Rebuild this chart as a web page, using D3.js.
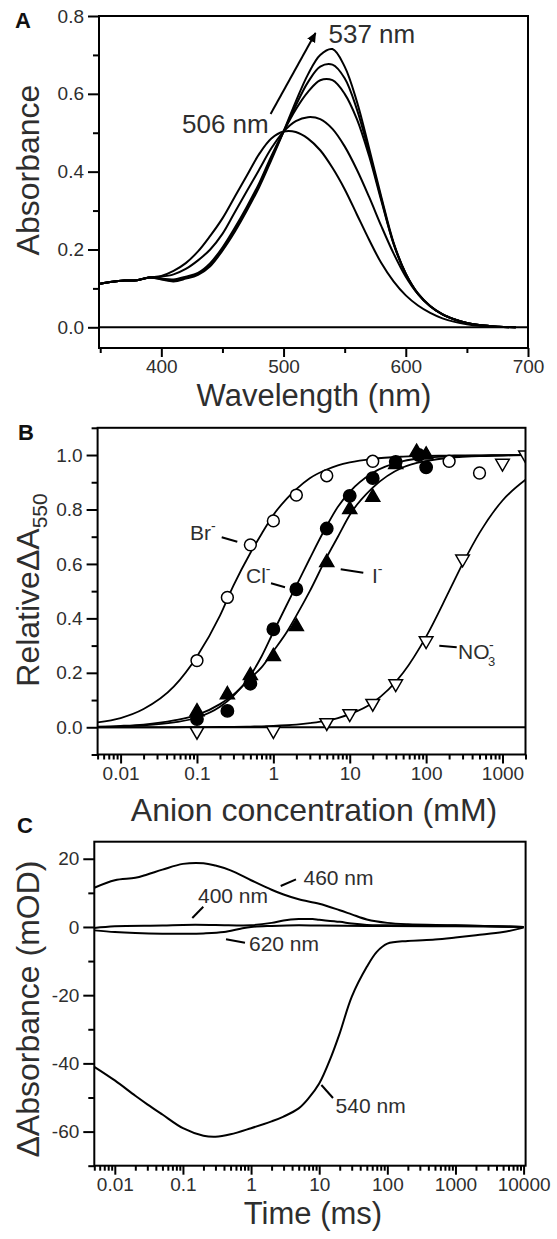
<!DOCTYPE html>
<html><head><meta charset="utf-8">
<script src="https://cdn.jsdelivr.net/npm/d3@7"></script>
<style>
body{margin:0;background:#fff;}
svg{display:block;font-family:"Liberation Sans",Arial,Helvetica,sans-serif;}
</style></head><body>
<svg id="chart" width="557" height="1239"></svg>
<script>
// ---------------- Panel A data: absorption spectra ----------------
const waveA = [350,360,370,380,390,400,410,420,430,440,450,460,470,480,490,500,510,520,530,540,550,560,570,580,590,600,610,620,630,640,650,660,670,680,690];
const abs506 = [.112,.117,.120,.121,.128,.132,.145,.165,.195,.235,.280,.335,.390,.445,.485,.503,.502,.485,.455,.410,.355,.290,.225,.165,.118,.082,.056,.037,.023,.014,.008,.004,.002,.001,0];
const abs523 = [.112,.117,.120,.121,.128,.130,.136,.150,.172,.200,.240,.295,.350,.405,.460,.503,.530,.540,.535,.510,.465,.405,.335,.260,.190,.130,.085,.054,.033,.020,.011,.006,.003,.001,0];
const abs535 = [.112,.117,.120,.121,.128,.125,.123,.130,.140,.165,.205,.255,.310,.370,.440,.503,.560,.605,.635,.635,.600,.535,.440,.325,.215,.138,.087,.055,.034,.020,.011,.006,.003,.001,0];
const abs536 = [.112,.117,.120,.121,.128,.124,.120,.127,.137,.160,.200,.250,.305,.365,.435,.503,.570,.630,.670,.675,.640,.560,.450,.330,.215,.137,.086,.054,.033,.020,.011,.006,.003,.001,0];
const abs537 = [.112,.117,.120,.121,.128,.123,.118,.125,.135,.157,.197,.245,.300,.360,.430,.503,.580,.650,.700,.715,.670,.580,.460,.335,.218,.138,.086,.054,.033,.020,.011,.006,.003,.001,0];
const spectraA = [abs506, abs523, abs535, abs536, abs537];
const xTicksA = [400,500,600,700], xTickLabelsA = ["400","500","600","700"], xMinorA = [350,450,550,650];
const yTicksA = [0,0.2,0.4,0.6,0.8], yTickLabelsA = ["0.0","0.2","0.4","0.6","0.8"], yMinorA = [0.1,0.3,0.5,0.7];

// ---------------- Panel B data: anion titration ----------------
const brConc = [0.1,0.25,0.5,1,2,5,20,200,500];
const brRel  = [.245,.477,.670,.758,.853,.924,.977,.977,.934];
const clConc = [0.1,0.25,0.5,1,2,5,10,20,40,80,100];
const clRel  = [.030,.060,.160,.360,.507,.730,.850,.915,.975,1.00,.955];
const iConc  = [0.1,0.25,0.5,1,2,5,10,20,40,75,100];
const iRel   = [.057,.120,.190,.260,.370,.605,.800,.845,.965,1.01,1.00];
const no3Conc = [0.1,1,5,10,20,40,100,300,1000,2000];
const no3Rel  = [-.015,-.012,.017,.050,.088,.160,.318,.618,.970,1.00];
const fitConc = [0.005,0.01,0.02,0.05,0.1,0.2,0.3,0.5,0.7,1,1.5,2,3,5,7,10,20,50,100,200,300,500,1000,2000];
const brFit  = [.018,.034,.067,.150,.260,.410,.520,.640,.710,.780,.840,.875,.915,.947,.962,.973,.986,.994,.997,.998,.999,.999,1,1];
const clFit  = [.001,.003,.007,.018,.035,.075,.115,.190,.260,.350,.450,.520,.620,.740,.810,.865,.935,.978,.990,.995,.997,.998,.999,1];
const iFit   = [.002,.005,.010,.025,.045,.085,.120,.180,.220,.280,.350,.410,.500,.625,.700,.780,.880,.955,.978,.990,.993,.996,.998,1];
const no3Fit = [0,0,0,0,.0005,.001,.0015,.0025,.0035,.005,.0075,.010,.015,.024,.034,.048,.090,.200,.333,.500,.600,.714,.833,.909];
const xTicksB = [0.01,0.1,1,10,100,1000], xTickLabelsB = ["0.01","0.1","1","10","100","1000"];
const yTicksB = [0,0.2,0.4,0.6,0.8,1.0], yTickLabelsB = ["0.0","0.2","0.4","0.6","0.8","1.0"], yMinorB = [-0.1,0.1,0.3,0.5,0.7,0.9,1.1];

// ---------------- Panel C data: transient absorbance ----------------
const t460 = [0.005,0.01,0.02,0.03,0.05,0.1,0.2,0.3,0.5,1,2,3,5,10,20,30,50,100,200,1000,10000];
const d460 = [11.5,13.7,14.4,15.4,16.8,18.5,18.7,18.0,16.6,13.7,10.9,9.5,8.1,6.8,4.9,3.7,2.2,1.2,0.8,0.5,0];
const t400 = [0.005,0.01,0.05,0.1,0.3,1,2,3,5,8,10,20,30,50,100,1000,10000];
const d400 = [-0.3,0.2,0.4,0.6,0.6,0.5,1.2,1.9,2.3,2.3,2.1,1.5,1.0,0.6,0.5,0.4,0];
const t620 = [0.005,0.01,0.02,0.05,0.1,0.2,0.4,0.7,1,2,5,10,50,100,1000,10000];
const d620 = [-1.0,-1.5,-1.8,-2.0,-2.0,-1.9,-1.5,-0.5,0,0.3,0.5,0.4,0.3,0.3,0.2,0];
const t540 = [0.005,0.01,0.02,0.03,0.05,0.1,0.2,0.3,0.5,1,2,3,5,7,10,15,20,30,50,70,100,200,500,1000,2000,5000,10000];
const d540 = [-41,-45,-49.5,-52,-55,-59,-61.2,-61.5,-60.8,-59,-57,-55.6,-53.2,-50.2,-45.9,-38,-31.2,-20.5,-11.7,-7.3,-4.9,-4.1,-3.7,-3.1,-2.4,-1.5,-0.2];
const xTicksC = [0.01,0.1,1,10,100,1000,10000], xTickLabelsC = ["0.01","0.1","1","10","100","1000","10000"];
const yTicksC = [-60,-40,-20,0,20], yTickLabelsC = ["-60","-40","-20","0","20"], yMinorC = [-70,-50,-30,-10,10];

// ---------------- drawing ----------------
const FONT = '"Liberation Sans", Arial, Helvetica, sans-serif';
const TXT = '#2e2e2e';
const svg = d3.select('#chart');

function styleAxis(g){
  g.select('.domain').remove();
  g.attr('font-family', FONT).attr('font-size', 19);
  g.selectAll('line').attr('stroke','#000').attr('stroke-width',2);
  g.selectAll('text').attr('fill', TXT);
}
function xAxis(scale, yPos, majors, labels, minors){
  const gmin = svg.append('g').attr('transform',`translate(0,${yPos})`)
    .call(d3.axisBottom(scale).tickValues(minors).tickSize(5).tickFormat(''));
  styleAxis(gmin);
  const g = svg.append('g').attr('transform',`translate(0,${yPos})`)
    .call(d3.axisBottom(scale).tickValues(majors).tickSize(9).tickPadding(3).tickFormat((d,i)=>labels[i]));
  styleAxis(g);
}
function yAxis(scale, xPos, majors, labels, minors){
  const gmin = svg.append('g').attr('transform',`translate(${xPos},0)`)
    .call(d3.axisLeft(scale).tickValues(minors).tickSize(6).tickFormat(''));
  styleAxis(gmin);
  const g = svg.append('g').attr('transform',`translate(${xPos},0)`)
    .call(d3.axisLeft(scale).tickValues(majors).tickSize(11).tickPadding(4).tickFormat((d,i)=>labels[i]));
  styleAxis(g);
}
function frame(b){
  svg.append('rect').attr('x',b.x0).attr('y',b.y0).attr('width',b.x1-b.x0).attr('height',b.y1-b.y0)
    .attr('fill','none').attr('stroke','#000').attr('stroke-width',2);
}
function text(x,y,str,size,opts={}){
  const t = svg.append('text').attr('x',x).attr('y',y).attr('font-size',size).attr('fill',TXT)
    .attr('font-family',FONT).attr('text-anchor',opts.anchor||'start');
  if(opts.weight) t.attr('font-weight',opts.weight);
  t.text(str);
  return t;
}
function leader(x1,y1,x2,y2){
  svg.append('line').attr('x1',x1).attr('y1',y1).attr('x2',x2).attr('y2',y2)
    .attr('stroke','#000').attr('stroke-width',2);
}

// ===== Panel A =====
const A = {x0:99, x1:528, y0:16, y1:348};
const xA = d3.scaleLinear().domain([349,700]).range([A.x0,A.x1]);
const yA = d3.scaleLinear().domain([-0.0532,0.8]).range([A.y1,A.y0]);
svg.append('line').attr('x1',A.x0).attr('x2',A.x1).attr('y1',yA(0)).attr('y2',yA(0)).attr('stroke','#000').attr('stroke-width',2);
const lineA = d3.line().x((d,i)=>xA(waveA[i])).y(d=>yA(d)).curve(d3.curveCatmullRom.alpha(0.5));
spectraA.forEach(s=>{
  svg.append('path').attr('d',lineA(s)).attr('fill','none').attr('stroke','#000').attr('stroke-width',2);
});
xAxis(xA, A.y1, xTicksA, xTickLabelsA, xMinorA);
yAxis(yA, A.x0, yTicksA, yTickLabelsA, yMinorA);
frame(A);
text(314,406,'Wavelength (nm)',31,{anchor:'middle'});
svg.append('text').attr('transform','translate(39,170) rotate(-90)').attr('text-anchor','middle')
  .attr('font-size',32).attr('fill',TXT).attr('font-family',FONT).text('Absorbance');
text(15,28,'A',22,{weight:'bold'}).attr('fill','#111');
text(328.5,43,'537 nm',26);
text(182,133,'506 nm',26);
const defs = svg.append('defs');
defs.append('marker').attr('id','arr').attr('viewBox','0 0 10 10').attr('refX',9).attr('refY',5)
  .attr('markerWidth',10).attr('markerHeight',10).attr('markerUnits','userSpaceOnUse').attr('orient','auto')
  .append('path').attr('d','M0,0.5 L10,5 L0,9.5 Z').attr('fill','#000');
svg.append('line').attr('x1',270.6).attr('y1',114).attr('x2',315.5).attr('y2',33)
  .attr('stroke','#000').attr('stroke-width',2).attr('marker-end','url(#arr)');

// ===== Panel B =====
const B = {x0:97.6, x1:525.5, y0:427.8, y1:754.5};
const xB = d3.scaleLog().domain([0.005,2000]).range([B.x0,B.x1]);
const yB = d3.scaleLinear().domain([-0.1,1.1]).range([B.y1,B.y0]);
defs.append('clipPath').attr('id','clipB').append('rect').attr('x',B.x0).attr('y',B.y0).attr('width',B.x1-B.x0).attr('height',B.y1-B.y0);
svg.append('line').attr('x1',B.x0).attr('x2',B.x1).attr('y1',yB(0)).attr('y2',yB(0)).attr('stroke','#000').attr('stroke-width',2);
const gB = svg.append('g').attr('clip-path','url(#clipB)');
const lineB = d3.line().x((d,i)=>xB(fitConc[i])).y(d=>yB(d)).curve(d3.curveMonotoneX);
[brFit, clFit, iFit, no3Fit].forEach(f=>{
  gB.append('path').attr('d',lineB(f)).attr('fill','none').attr('stroke','#000').attr('stroke-width',1.8);
});
function markers(conc, vals, type, filled, size, rot){
  gB.selectAll(null).data(vals).enter().append('path')
    .attr('d', d3.symbol().type(type).size(size))
    .attr('transform',(d,i)=>`translate(${xB(conc[i])},${yB(d)}) rotate(${rot||0})`)
    .attr('fill', filled ? '#000' : '#fff').attr('stroke','#000').attr('stroke-width',1.5);
}
markers(no3Conc, no3Rel, d3.symbolTriangle, false, 80, 180);
markers(brConc, brRel, d3.symbolCircle, false, 110);
markers(iConc, iRel, d3.symbolTriangle, true, 85);
markers(clConc, clRel, d3.symbolCircle, true, 120);
const xMinorB = xB.ticks().filter(v=>!xTicksB.some(m=>Math.abs(m-v)/m<1e-6));
xAxis(xB, B.y1, xTicksB, xTickLabelsB, xMinorB);
yAxis(yB, B.x0, yTicksB, yTickLabelsB, yMinorB);
frame(B);
text(314,821,'Anion concentration (mM)',32,{anchor:'middle'});
const tB = svg.append('text').attr('transform','translate(39,590) rotate(-90)').attr('text-anchor','middle')
  .attr('font-size',32).attr('fill',TXT).attr('font-family',FONT);
tB.append('tspan').text('Relative\u0394A');
tB.append('tspan').attr('font-size',21).attr('dy',8).text('550');
text(18,440,'B',22,{weight:'bold'}).attr('fill','#111');
// anion labels
const tBr = text(190,540,'Br',21); tBr.append('tspan').attr('font-size',14).attr('dy',-9).text('-');
leader(221.7,537.3,237.3,541.7);
const tCl = text(246,583,'Cl',21); tCl.append('tspan').attr('font-size',14).attr('dy',-9).text('-');
leader(271,583.3,285,587.3);
const tI = text(372,583,'I',21); tI.append('tspan').attr('font-size',14).attr('dy',-9).text('-');
leader(340.7,569.3,363.3,572.7);
text(458,659,'NO',21);
text(488,666,'3',13);
text(489,650,'-',14);
leader(439.3,645.7,456.7,647.3);

// ===== Panel C =====
const C = {x0:94.3, x1:525.6, y0:841.7, y1:1165.7};
const xC = d3.scaleLog().domain([0.005,10700]).range([C.x0,C.x1]);
const yC = d3.scaleLinear().domain([-70,25]).range([C.y1,C.y0]);
const traces = [[t460,d460],[t400,d400],[t620,d620],[t540,d540]];
traces.forEach(([t,d])=>{
  const ln = d3.line().x((v,i)=>xC(t[i])).y(v=>yC(v)).curve(d3.curveCatmullRom.alpha(0.5));
  svg.append('path').attr('d',ln(d)).attr('fill','none').attr('stroke','#000').attr('stroke-width',2);
});
const xMinorC = xC.ticks().filter(v=>!xTicksC.some(m=>Math.abs(m-v)/m<1e-6));
xAxis(xC, C.y1, xTicksC, xTickLabelsC, xMinorC);
yAxis(yC, C.x0, yTicksC, yTickLabelsC, yMinorC);
frame(C);
text(313,1224,'Time (ms)',31,{anchor:'middle'});
svg.append('text').attr('transform','translate(39,1009) rotate(-90)').attr('text-anchor','middle')
  .attr('font-size',32).attr('fill',TXT).attr('font-family',FONT).text('\u0394Absorbance (mOD)');
text(17,833,'C',22,{weight:'bold'}).attr('fill','#111');
text(303.5,885,'460 nm',21); leader(280.7,886,296,879.3);
text(198,903,'400 nm',21); leader(192.3,918,203.3,906.7);
text(249,951,'620 nm',21); leader(226,939.3,245,942.7);
text(335.6,1113,'540 nm',21); leader(321.4,1085,333,1098);
</script>
</body></html>
